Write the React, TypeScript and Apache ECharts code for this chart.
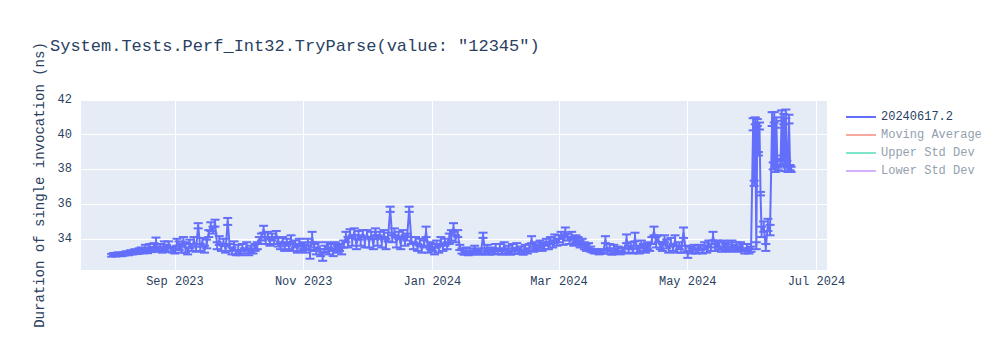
import React, { useEffect, useRef } from "react";
import * as echarts from "echarts";

const TITLE = 'System.Tests.Perf_Int32.TryParse(value: "12345")';
const Y_NAME = "Duration of single invocation (ns)";
const SERIES_NAME = "20240617.2";
const HIDDEN_SERIES = ["Moving Average", "Upper Std Dev", "Lower Std Dev"];
const HIDDEN_COLORS = ["#f7aa9d", "#80e6cb", "#d5b1fd"];
const MONTHS = ["Jan", "Feb", "Mar", "Apr", "May", "Jun", "Jul", "Aug", "Sep", "Oct", "Nov", "Dec"];

// Daily runs, one value per day of month (null = no run that day)
const AUG_2023 = [null, 33.05, 33.1, 33.06, 33.12, 33.08, 33.1, 33.14, 33.18, 33.15, 33.22, 33.2, 33.28, 33.24, 33.3, 33.35, 33.28, 33.45, 33.32, 33.5, 33.38, 33.55, 33.75, 33.4, 33.5, 33.35, 33.6, 33.45, 33.65, 33.4, 33.35];
const AUG_2023_ERR = [null, 0.08, 0.08, 0.08, 0.1, 0.08, 0.1, 0.1, 0.1, 0.1, 0.12, 0.1, 0.12, 0.12, 0.15, 0.15, 0.12, 0.2, 0.15, 0.2, 0.15, 0.2, 0.32, 0.15, 0.2, 0.15, 0.25, 0.2, 0.2, 0.15, 0.15];
const SEP_2023 = [33.3, 33.8, 33.6, 33.4, 33.9, 33.5, 33.3, 33.7, 33.5, 33.9, 33.4, 34.75, 33.5, 33.8, 33.4, 33.7, 34.3, 34.7, 34.5, 34.9, 33.6, 33.9, 33.5, 33.8, 33.4, 35.0, 33.5, 33.3, 33.6, 33.2];
const SEP_2023_ERR = [0.15, 0.2, 0.25, 0.2, 0.2, 0.3, 0.2, 0.25, 0.2, 0.2, 0.15, 0.15, 0.2, 0.25, 0.2, 0.25, 0.2, 0.25, 0.2, 0.2, 0.2, 0.25, 0.2, 0.2, 0.2, 0.2, 0.2, 0.2, 0.25, 0.15];
const OCT_2023 = [33.4, 33.2, 33.5, 33.3, 33.6, 33.2, 33.4, 33.3, 33.5, 33.6, 33.9, 34.1, 34.55, 33.9, 34.2, 33.8, 34.1, 33.9, 34.25, 33.8, 33.6, 33.9, 33.5, 33.8, 33.6, 34.0, 33.5, 33.7, 33.4, 33.8, 33.5];
const OCT_2023_ERR = [0.25, 0.15, 0.2, 0.15, 0.2, 0.15, 0.2, 0.15, 0.2, 0.2, 0.2, 0.2, 0.2, 0.2, 0.2, 0.2, 0.2, 0.2, 0.2, 0.25, 0.2, 0.2, 0.2, 0.2, 0.2, 0.2, 0.2, 0.2, 0.2, 0.2, 0.2];
const NOV_2023 = [33.6, 33.4, 33.8, 33.1, 34.1, 33.5, 33.3, 33.6, 33.2, 32.98, 33.4, 33.6, 33.3, 33.5, 33.2, 33.6, 33.4, 33.5, 33.3, 33.7, 34.1, 33.8, 34.3, 33.9, 34.4, 33.7, 34.2, 33.9, 34.3, 33.8];
const NOV_2023_ERR = [0.2, 0.2, 0.2, 0.25, 0.3, 0.2, 0.2, 0.2, 0.2, 0.25, 0.2, 0.2, 0.2, 0.2, 0.2, 0.2, 0.2, 0.2, 0.2, 0.2, 0.3, 0.3, 0.25, 0.3, 0.2, 0.3, 0.25, 0.3, 0.2, 0.3];
const DEC_2023 = [34.3, 33.8, 34.2, 33.7, 34.4, 33.9, 34.2, 33.8, 34.3, 33.7, 34.1, 35.7, 34.0, 34.4, 33.8, 34.2, 33.7, 34.3, 33.9, 34.1, 35.7, 33.9, 33.6, 33.9, 33.5, 33.8, 33.4, 33.7, 34.4, 33.4, 33.6];
const DEC_2023_ERR = [0.2, 0.3, 0.2, 0.3, 0.2, 0.3, 0.2, 0.3, 0.2, 0.3, 0.25, 0.15, 0.2, 0.2, 0.3, 0.2, 0.3, 0.2, 0.3, 0.2, 0.15, 0.2, 0.2, 0.2, 0.2, 0.2, 0.2, 0.2, 0.3, 0.2, 0.2];
const JAN_2024 = [33.5, 33.3, 33.7, 33.4, 33.9, 33.5, 33.8, 33.6, 34.0, 34.2, 34.65, 34.0, 34.3, 33.5, 33.3, 33.2, 33.35, 33.15, 33.3, 33.2, 33.4, 33.25, 33.3, 33.2, 34.2, 33.3, 33.45, 33.2, 33.35, 33.25, 33.5];
const JAN_2024_ERR = [0.2, 0.2, 0.2, 0.2, 0.2, 0.2, 0.2, 0.2, 0.3, 0.3, 0.25, 0.2, 0.2, 0.15, 0.15, 0.12, 0.15, 0.1, 0.15, 0.12, 0.2, 0.12, 0.15, 0.12, 0.15, 0.15, 0.2, 0.12, 0.15, 0.15, 0.2];
const FEB_2024 = [33.3, 33.5, 33.2, 33.6, 33.3, 33.4, 33.2, 33.5, 33.3, 33.6, 33.25, 33.4, 33.2, 33.45, 33.3, 33.5, 33.95, 33.4, 33.6, 33.5, 33.7, 33.5, 33.6, 33.8, 33.6, 33.9, 33.7, 34.0, 33.8];
const FEB_2024_ERR = [0.15, 0.2, 0.12, 0.2, 0.15, 0.2, 0.12, 0.2, 0.15, 0.15, 0.12, 0.15, 0.12, 0.2, 0.15, 0.2, 0.2, 0.15, 0.2, 0.15, 0.2, 0.2, 0.2, 0.2, 0.2, 0.2, 0.2, 0.25, 0.2];
const MAR_2024 = [34.0, 34.2, 33.9, 34.45, 34.1, 33.9, 34.2, 33.8, 34.0, 33.9, 33.7, 33.8, 33.6, 33.5, 33.6, 33.4, 33.3, 33.25, 33.3, 33.2, 33.3, 33.25, 33.95, 33.3, 33.5, 33.2, 33.45, 33.3, 33.4, 33.2, 33.35];
const MAR_2024_ERR = [0.2, 0.2, 0.25, 0.2, 0.2, 0.2, 0.2, 0.2, 0.2, 0.2, 0.2, 0.2, 0.2, 0.2, 0.15, 0.15, 0.1, 0.1, 0.1, 0.1, 0.1, 0.1, 0.2, 0.15, 0.2, 0.12, 0.2, 0.15, 0.15, 0.1, 0.15];
const APR_2024 = [33.3, 34.0, 33.4, 33.6, 33.3, 34.1, 33.4, 33.3, 33.7, 33.5, 33.4, 33.6, 33.5, 33.9, 34.45, 33.8, 34.0, 33.6, 33.5, 34.0, 33.7, 33.4, 33.8, 33.5, 33.9, 33.4, 33.6, 33.4, 34.35, 33.4];
const APR_2024_ERR = [0.15, 0.25, 0.2, 0.2, 0.15, 0.25, 0.2, 0.15, 0.2, 0.2, 0.2, 0.2, 0.2, 0.2, 0.25, 0.3, 0.2, 0.2, 0.2, 0.2, 0.25, 0.2, 0.25, 0.2, 0.3, 0.2, 0.2, 0.2, 0.3, 0.2];
const MAY_2024 = [33.1, 33.4, 33.3, 33.5, 33.3, 33.4, 33.5, 33.3, 33.6, 33.4, 33.7, 33.5, 34.15, 33.5, 33.7, 33.6, 33.4, 33.7, 33.5, 33.6, 33.4, 33.7, 33.5, 33.6, 33.4, 33.6, 33.5, 33.3, 33.5, 33.3, 33.4];
const MAY_2024_ERR = [0.2, 0.15, 0.15, 0.15, 0.15, 0.2, 0.15, 0.15, 0.2, 0.2, 0.2, 0.2, 0.25, 0.2, 0.2, 0.2, 0.15, 0.2, 0.2, 0.2, 0.15, 0.2, 0.15, 0.2, 0.15, 0.2, 0.2, 0.15, 0.2, 0.15, 0.15];

const MONTH_KEYS = ["2023-08", "2023-09", "2023-10", "2023-11", "2023-12", "2024-01", "2024-02", "2024-03", "2024-04", "2024-05"];
const MONTH_VALUES = [AUG_2023, SEP_2023, OCT_2023, NOV_2023, DEC_2023, JAN_2024, FEB_2024, MAR_2024, APR_2024, MAY_2024];
const MONTH_ERRORS = [AUG_2023_ERR, SEP_2023_ERR, OCT_2023_ERR, NOV_2023_ERR, DEC_2023_ERR, JAN_2024_ERR, FEB_2024_ERR, MAR_2024_ERR, APR_2024_ERR, MAY_2024_ERR];

// June 2024: several runs per day
const JUN_DATES = [
  "2024-06-01 00:00", "2024-06-01 12:00", "2024-06-02 00:00", "2024-06-02 12:00", "2024-06-03 00:00",
  "2024-06-03 12:00", "2024-06-04 00:00", "2024-06-04 12:00", "2024-06-05", "2024-06-06", "2024-06-07", "2024-06-08",
  "2024-06-09", "2024-06-10 00:00", "2024-06-10 12:00", "2024-06-11 00:00", "2024-06-11 12:00", "2024-06-12 00:00",
  "2024-06-12 12:00", "2024-06-13", "2024-06-14 00:00", "2024-06-14 12:00", "2024-06-15 00:00", "2024-06-15 12:00",
  "2024-06-16 00:00", "2024-06-16 12:00", "2024-06-17 00:00", "2024-06-17 12:00", "2024-06-18 00:00",
  "2024-06-18 12:00", "2024-06-19",
];
const JUN_VALUES = [
  40.6, 37.2, 40.8, 33.6, 40.7,
  38.9, 40.5, 36.6, 34.4, 34.7, 33.5, 34.8,
  34.5, 40.9, 38.2, 41.0, 38.0, 40.7,
  38.3, 38.1, 38.4, 41.1, 38.5, 40.9,
  38.1, 41.2, 38.3, 38.0, 40.9,
  38.1, 38.0,
];
const JUN_ERRORS = [
  0.35, 0.15, 0.2, 0.2, 0.2,
  0.1, 0.2, 0.1, 0.3, 0.3, 0.2, 0.35,
  0.3, 0.4, 0.2, 0.3, 0.15, 0.3,
  0.2, 0.15, 0.2, 0.3, 0.3, 0.3,
  0.2, 0.25, 0.2, 0.15, 0.25,
  0.15, 0.15,
];

const FONT = "'Courier New', 'Liberation Mono', monospace";
const TEXT = "#2a3f5f";
const LINE = "#636efa";

function buildPoints(): [string, number, number][] {
  const pts: [string, number, number][] = [];
  MONTH_KEYS.forEach((key, m) => {
    MONTH_VALUES[m].forEach((v, d) => {
      if (v == null) return;
      const day = String(d + 1).padStart(2, "0");
      pts.push([key + "-" + day, v as number, MONTH_ERRORS[m][d] as number]);
    });
  });
  JUN_DATES.forEach((d, i) => pts.push([d, JUN_VALUES[i], JUN_ERRORS[i]]));
  return pts;
}

export default function App() {
  const ref = useRef<HTMLDivElement>(null);
  useEffect(() => {
    if (!ref.current) return;
    const chart = echarts.init(ref.current, null, { renderer: "svg" });
    const pts = buildPoints();
    const lineData = pts.map((p) => [p[0], p[1]]);
    const errData = pts.map((p) => [p[0], p[1], p[2]]);
    const DAY = 86400000;
    chart.setOption({
      animation: false,
      textStyle: { fontFamily: FONT },
      title: {
        text: TITLE,
        left: 45,
        top: 33,
        textStyle: { fontFamily: FONT, fontSize: 17, fontWeight: "normal", color: TEXT },
      },
      legend: {
        orient: "vertical",
        left: 841,
        top: 106,
        icon: "rect",
        itemWidth: 30,
        itemHeight: 2,
        itemGap: 6,
        data: [
          { name: SERIES_NAME, textStyle: { color: TEXT } },
          ...HIDDEN_SERIES.map((n) => ({ name: n, textStyle: { color: "#94a0af" } })),
        ],
        textStyle: { fontFamily: FONT, fontSize: 12, color: TEXT, lineHeight: 12 },
      },
      grid: {
        left: 80,
        right: 173,
        top: 100,
        bottom: 80,
        show: true,
        backgroundColor: "#E5ECF6",
        borderWidth: 0,
      },
      xAxis: {
        type: "time",
        min: "2023-07-18",
        max: "2024-07-06",
        minInterval: 61 * DAY,
        maxInterval: 61 * DAY,
        axisLine: { show: false },
        axisTick: { show: false },
        splitLine: { show: true, lineStyle: { color: "#ffffff", width: 1 } },
        axisLabel: {
          color: TEXT,
          fontFamily: FONT,
          fontSize: 12,
          margin: 6,
          formatter: (v: number) => {
            const d = new Date(v);
            return MONTHS[d.getMonth()] + " " + d.getFullYear();
          },
        },
      },
      yAxis: {
        type: "value",
        min: 32.2,
        max: 42,
        name: Y_NAME,
        nameLocation: "middle",
        nameRotate: 90,
        nameGap: 27,
        nameTextStyle: { fontFamily: FONT, fontSize: 14, color: TEXT },
        axisLine: { show: false },
        axisTick: { show: false },
        splitLine: { show: true, showMinLine: false, lineStyle: { color: "#ffffff", width: 1 } },
        axisLabel: { color: TEXT, fontFamily: FONT, fontSize: 12, margin: 8, showMinLabel: false },
      },
      series: [
        {
          name: SERIES_NAME,
          type: "line",
          data: lineData,
          symbol: "none",
          color: LINE,
          lineStyle: { width: 2, color: LINE },
          z: 3,
        },
        {
          name: "error bars",
          type: "custom",
          data: errData,
          z: 3,
          renderItem: (params: any, api: any) => {
            const x = api.value(0);
            const v = api.value(1);
            const e = api.value(2);
            const top = api.coord([x, v + e]);
            const bot = api.coord([x, v - e]);
            const w = 4.5;
            const style = { stroke: LINE, lineWidth: 2 };
            return {
              type: "group",
              children: [
                { type: "line", shape: { x1: top[0], y1: top[1], x2: bot[0], y2: bot[1] }, style },
                { type: "line", shape: { x1: top[0] - w, y1: top[1], x2: top[0] + w, y2: top[1] }, style },
                { type: "line", shape: { x1: bot[0] - w, y1: bot[1], x2: bot[0] + w, y2: bot[1] }, style },
              ],
            };
          },
        },
        ...HIDDEN_SERIES.map((n, i) => ({
          name: n,
          type: "line",
          data: [],
          symbol: "none",
          color: HIDDEN_COLORS[i],
          lineStyle: { width: 2, color: HIDDEN_COLORS[i] },
        })),
      ],
    });
    return () => chart.dispose();
  }, []);
  return (
    <div
      ref={ref}
      style={{ position: "fixed", left: 0, top: 0, width: 1000, height: 350, background: "#fff" }}
    />
  );
}
